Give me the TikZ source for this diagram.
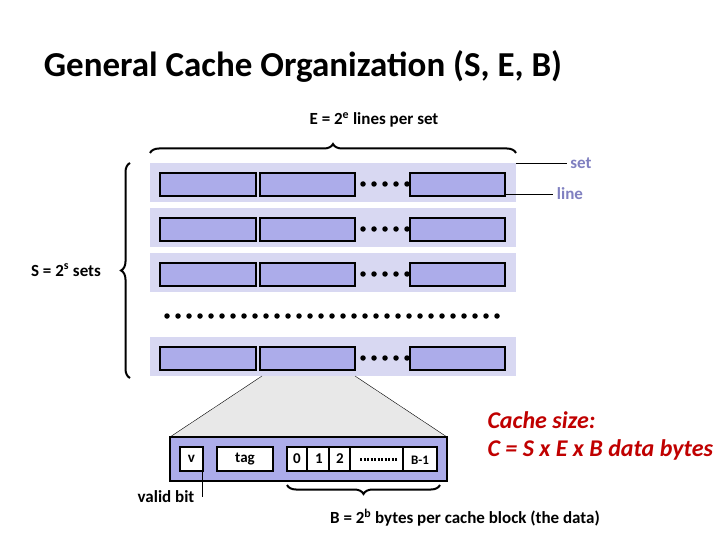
\documentclass[tikz,border=0pt]{standalone}
\usepackage{fontspec}
\setmainfont{Carlito}
\usetikzlibrary{decorations.pathreplacing}
\definecolor{lavender}{RGB}{172, 172, 234}
\definecolor{pale}{RGB}{216, 216, 242}
\definecolor{setblue}{RGB}{128, 128, 192}
\definecolor{rojo}{RGB}{192, 0, 0}
\definecolor{gris}{RGB}{232, 232, 232}
\tikzset{
    setrow/.style={fill=pale, draw=none},
    cline/.style={draw, line width=2.5pt, fill=lavender},
    cell/.style={draw, line width=2.5pt, fill=white},
    brace/.style={decorate, decoration={brace, amplitude=9pt}, line width=2pt},
    dots/.style={line width=5.5pt, line cap=round, dash pattern=on 0pt off 11pt},
    lbl/.style={font=\fontsize{17}{19}\selectfont\bfseries},
    celltxt/.style={font=\fontsize{15}{17}\selectfont\bfseries},
}
\begin{document}
\begin{tikzpicture}[x=1pt, y=-1pt]
    \useasboundingbox (0,0) rectangle (720,540);
    \node (title) at (303,66) {\fontsize{35}{40}\selectfont\bfseries General Cache Organization (S, E, B)};

    % sets
    \foreach \top/\nm in {163/a, 208/b, 253/c, 337/d} {
        \fill[setrow] (150,\top) rectangle (516,\top+39);
        \draw[cline] (160,\top+10) rectangle (256,\top+33);
        \draw[cline] (260,\top+10) rectangle (355,\top+33);
        \draw[cline] (410,\top+10) rectangle (505,\top+33);
        \draw[dots] (363,\top+21) -- (408,\top+21);
    }
    \draw[dots] (167,316) -- (506,316);

    % braces
    \draw[brace] (150,153) -- (516,153);
    \node[lbl] (elbl) at (374,120) {E = 2\textsuperscript{e} lines per set};
    \draw[brace] (130,378) -- (130,163);
    \node[lbl] (slbl) at (66,270) {S = 2\textsuperscript{s} sets};

    \coordinate (setend) at (516,163);
    \coordinate (lineend) at (505,194);
    \node[lbl, text=setblue] (setlbl) at (581,163) {set};
    \node[lbl, text=setblue] (linelbl) at (570,194) {line};
    \draw (setend) -- (setlbl.west);
    \draw (lineend) -- (linelbl.west);

    % zoomed line
    \fill[gris] (262,376) -- (355,376) -- (447,437) -- (170,437) -- cycle;
    \draw (262,376) -- (170,437);
    \draw (355,376) -- (447,437);
    \draw[cline] (170,437) rectangle (447,481);
    \node[cell, celltxt, minimum width=23pt, minimum height=24pt, inner sep=0pt] (v) at (191.5,459) {v};
    \node[cell, celltxt, minimum width=56pt, minimum height=24pt, inner sep=0pt] (tag) at (245,459) {tag};
    \draw[cell] (287,447) rectangle (437,471);
    \foreach \x/\t in {287/0, 309/1, 330/2} {
        \draw[line width=2.5pt] (\x+20,447) -- (\x+20,471);
        \node[celltxt] (b\t) at (\x+10,459) {\t};
    }
    \draw[line width=2.5pt] (403,447) -- (403,471);
    \draw[line width=3pt, dash pattern=on 2pt off 1.5pt] (360,459) -- (398,459);
    \node[font=\fontsize{13}{15}\selectfont\bfseries] (blast) at (420,460) {B-1};

    \node[lbl] (valid) at (166,497) {valid bit};
    \draw (202,471) -- (202,497);

    \draw[brace] (440,485) -- (287,485);
    \node[lbl] (blbl) at (465,518) {B = 2\textsuperscript{b} bytes per cache block (the data)};

    \node[text=rojo, align=left, anchor=west, font=\fontsize{24}{28}\selectfont\bfseries\itshape] (size) at (484,436)
        {Cache size:\\ C = S x E x B data bytes};
\end{tikzpicture}
\end{document}
